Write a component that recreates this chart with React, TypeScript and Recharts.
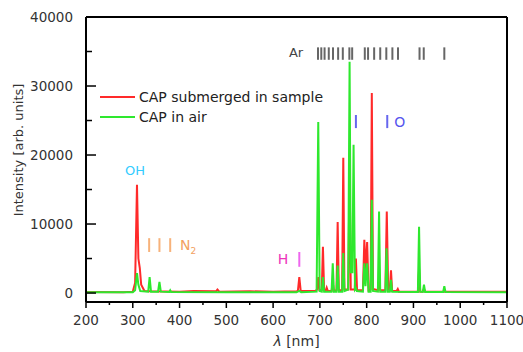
import React from 'react';
import {
  LineChart,
  Line,
  XAxis,
  YAxis,
  ReferenceLine,
  ReferenceDot,
} from 'recharts';

// wavelength [nm] / intensity pairs
const submergedNm = [
  200, 280, 300, 305, 309, 312, 315, 318, 325, 340, 400, 430, 478, 481, 485, 550, 600, 650, 653, 656, 659,
  690, 694, 696.5, 699, 704, 706.5, 709, 712, 714.5, 717, 725, 727.5, 730, 735.5, 738, 740.5, 747.5, 750,
  752.5, 760.5, 763.5, 766, 774.5, 777, 779.5, 792, 795, 798, 801, 804, 808.5, 811, 813.5, 824, 826.5, 829,
  840, 843, 846, 849.5, 852, 854.5, 864, 866.5, 869, 909.5, 912, 914.5, 920, 922.5, 925, 1000, 1100,
];
const submergedCounts = [
  150, 100, 200, 1500, 15700, 5000, 3600, 1200, 300, 250, 200, 300, 250, 500, 200, 250, 200, 250, 300, 2300, 300,
  300, 500, 2300, 400, 400, 6700, 400, 300, 800, 300, 300, 1500, 300, 400, 10300, 400, 400, 19600,
  500, 500, 18000, 500, 500, 5000, 400, 400, 7700, 3000, 7400, 400, 500, 29000, 600, 400, 2000, 400,
  400, 11800, 500, 400, 3300, 300, 300, 600, 200, 200, 3500, 200, 200, 600, 200, 200, 200,
];

const airNm = [
  200, 300, 305, 309, 312, 316, 333, 336, 339, 354, 357, 360, 378, 380, 382, 500, 650, 656, 660,
  693, 696.5, 699.5, 704, 706.5, 709, 725, 727.5, 730, 735.5, 738, 740.5, 747.5, 750, 752.5, 760.5, 763.5,
  766, 769.5, 772, 775, 777, 779, 792, 795, 797.5, 801, 804, 808.5, 811, 813.5, 824, 826.5, 829, 840, 842.5,
  845, 849.5, 852, 854.5, 909.5, 912, 914.5, 920, 922.5, 925, 963.5, 966, 968.5, 1100,
];
const airCounts = [
  100, 100, 400, 2900, 1200, 300, 200, 2300, 200, 200, 1600, 200, 150, 400, 150, 100, 100, 300, 100,
  200, 24800, 300, 200, 2300, 200, 200, 4300, 200, 200, 4000, 200, 200, 5800, 300, 500, 33500,
  3000, 3000, 21500, 500, 700, 300, 200, 4300, 1000, 4300, 200, 200, 13500, 300, 200, 11800, 200, 200, 6500,
  200, 200, 1900, 200, 150, 9600, 200, 150, 1200, 150, 150, 1000, 150, 100,
];

const argonLines = [696, 703, 710, 719, 728, 739, 749, 763, 769, 796, 803, 816, 829, 842, 855, 867, 913, 922, 966];
const nitrogenLines = [335, 357, 380];
const oxygenLines = [777, 844];
const hydrogenLines = [656];

const xTicks = [200, 250, 300, 350, 400, 450, 500, 550, 600, 650, 700, 750, 800, 850, 900, 950, 1000, 1050, 1100];
const yTicks = [0, 5000, 10000, 15000, 20000, 25000, 30000, 35000, 40000];

const seriesNames = ['CAP submerged in sample', 'CAP in air'];

const submerged = submergedNm.map((nm, i) => ({ nm, value: submergedCounts[i] }));
const air = airNm.map((nm, i) => ({ nm, value: airCounts[i] }));

const RED = '#ff2a2a';
const GREEN = '#2ee82e';
const FONT = '"DejaVu Sans", sans-serif';

const BottomTick = ({ x, y, payload }: any) => {
  const major = payload.value % 100 === 0;
  return (
    <g>
      <line x1={x} x2={x} y1={y} y2={y + (major ? 6 : 3)} stroke="#000" strokeWidth={1.5} />
      {major && (
        <text x={x} y={y + 23} textAnchor="middle" fontSize={13.5} fill="#333" fontFamily={FONT}>
          {payload.value}
        </text>
      )}
    </g>
  );
};

const TopTick = ({ x, y, payload }: any) => {
  const major = payload.value % 100 === 0;
  return <line x1={x} x2={x} y1={y} y2={y + (major ? 8 : 5)} stroke="#000" strokeWidth={1.5} />;
};

const LeftTick = ({ x, y, payload }: any) => {
  const major = payload.value % 10000 === 0;
  return (
    <g>
      <line x1={x} x2={x + (major ? 10 : 6)} y1={y} y2={y} stroke="#000" strokeWidth={1.5} />
      {major && (
        <text x={x - 13} y={y + 5} textAnchor="end" fontSize={13.5} fill="#333" fontFamily={FONT}>
          {payload.value}
        </text>
      )}
    </g>
  );
};

const RightTick = ({ x, y, payload }: any) => {
  const major = payload.value % 10000 === 0;
  return <line x1={x} x2={x - (major ? 8 : 5)} y1={y} y2={y} stroke="#000" strokeWidth={1.5} />;
};

const XTitle = ({ viewBox }: any) => (
  <text x={viewBox.x + viewBox.width / 2} y={346} textAnchor="middle" fontSize={14} fill="#333" fontFamily={FONT}>
    <tspan fontStyle="italic">λ</tspan> [nm]
  </text>
);

const YTitle = () => (
  <text x={0} y={0} transform="translate(23,150) rotate(-90)" textAnchor="middle" fontSize={13} fill="#333" fontFamily={FONT}>
    Intensity [arb. units]
  </text>
);

const textLabel = (value: string, color: string, size = 13) => (props: any) => {
  const { x, y } = props.viewBox;
  return (
    <text x={x} y={y + size * 0.36} textAnchor="middle" fontSize={size} fill={color} fontFamily={FONT}>
      {value}
    </text>
  );
};

const N2Label = (props: any) => {
  const { x, y } = props.viewBox;
  return (
    <text x={x} y={y + 5} textAnchor="start" fontSize={14} fill="#f2a060" fontFamily={FONT}>
      N<tspan fontSize={9} dy={4}>2</tspan>
    </text>
  );
};

const LegendBox = () => (
  <div
    style={{
      position: 'absolute',
      left: 100,
      top: 87,
      fontFamily: FONT,
      fontSize: 14,
      color: '#222',
      lineHeight: '20px',
    }}
  >
    {seriesNames.map((name, i) => (
      <div key={name} style={{ display: 'flex', alignItems: 'center', whiteSpace: 'nowrap' }}>
        <span
          style={{
            display: 'inline-block',
            width: 35,
            height: 2,
            background: i === 0 ? RED : GREEN,
            marginRight: 4,
          }}
        />
        {name}
      </div>
    ))}
  </div>
);

export default function App() {
  return (
    <div style={{ position: 'absolute', left: 0, top: 0, width: 523, height: 352, background: '#fff' }}>
      <LineChart width={523} height={352} margin={{ top: 16, right: 15, bottom: 0, left: 26 }}>
        <XAxis
          dataKey="nm"
          type="number"
          domain={[200, 1100]}
          ticks={xTicks}
          interval={0}
          height={50}
          tickSize={0}
          tickMargin={0}
          tickLine={false}
          tick={<BottomTick />}
          axisLine={{ stroke: '#000', strokeWidth: 2 }}
          label={<XTitle />}
          allowDataOverflow
        />
        <XAxis
          xAxisId="top"
          orientation="top"
          type="number"
          domain={[200, 1100]}
          ticks={xTicks}
          interval={0}
          height={1}
          tickSize={0}
          tickMargin={0}
          tickLine={false}
          tick={<TopTick />}
          axisLine={{ stroke: '#000', strokeWidth: 2 }}
        />
        <YAxis
          type="number"
          domain={[-1300, 40000]}
          ticks={yTicks}
          interval={0}
          width={60}
          tickSize={0}
          tickMargin={0}
          tickLine={false}
          tick={<LeftTick />}
          axisLine={{ stroke: '#000', strokeWidth: 2 }}
          label={<YTitle />}
          allowDataOverflow
        />
        <YAxis
          yAxisId="right"
          orientation="right"
          type="number"
          domain={[-1300, 40000]}
          ticks={yTicks}
          interval={0}
          width={1}
          tickSize={0}
          tickMargin={0}
          tickLine={false}
          tick={<RightTick />}
          axisLine={{ stroke: '#000', strokeWidth: 2 }}
        />
        <Line
          data={submerged}
          dataKey="value"
          type="linear"
          stroke={RED}
          strokeWidth={2}
          dot={false}
          isAnimationActive={false}
          name={seriesNames[0]}
        />
        <Line
          data={air}
          dataKey="value"
          type="linear"
          stroke={GREEN}
          strokeWidth={2}
          dot={false}
          isAnimationActive={false}
          name={seriesNames[1]}
        />
        {argonLines.map((nm) => (
          <ReferenceLine
            key={'ar' + nm}
            segment={[{ x: nm, y: 35600 }, { x: nm, y: 33800 }]}
            stroke="#666"
            strokeWidth={2}
          />
        ))}
        {nitrogenLines.map((nm) => (
          <ReferenceLine
            key={'n' + nm}
            segment={[{ x: nm, y: 7950 }, { x: nm, y: 5950 }]}
            stroke="#f7b27a"
            strokeWidth={2}
          />
        ))}
        {oxygenLines.map((nm) => (
          <ReferenceLine
            key={'o' + nm}
            segment={[{ x: nm, y: 25800 }, { x: nm, y: 23900 }]}
            stroke="#6666ee"
            strokeWidth={2}
          />
        ))}
        {hydrogenLines.map((nm) => (
          <ReferenceLine
            key={'h' + nm}
            segment={[{ x: nm, y: 5950 }, { x: nm, y: 3800 }]}
            stroke="#ee66ee"
            strokeWidth={2}
          />
        ))}
        <ReferenceDot x={649} y={34900} r={0} label={textLabel('Ar', '#444', 13)} />
        <ReferenceDot x={305} y={17800} r={0} label={textLabel('OH', '#33ccff', 13)} />
        <ReferenceDot x={401} y={6950} r={0} label={<N2Label />} />
        <ReferenceDot x={621} y={4900} r={0} label={textLabel('H', '#ee33bb', 14)} />
        <ReferenceDot x={871} y={24800} r={0} label={textLabel('O', '#5555ee', 14)} />
      </LineChart>
      <LegendBox />
    </div>
  );
}
